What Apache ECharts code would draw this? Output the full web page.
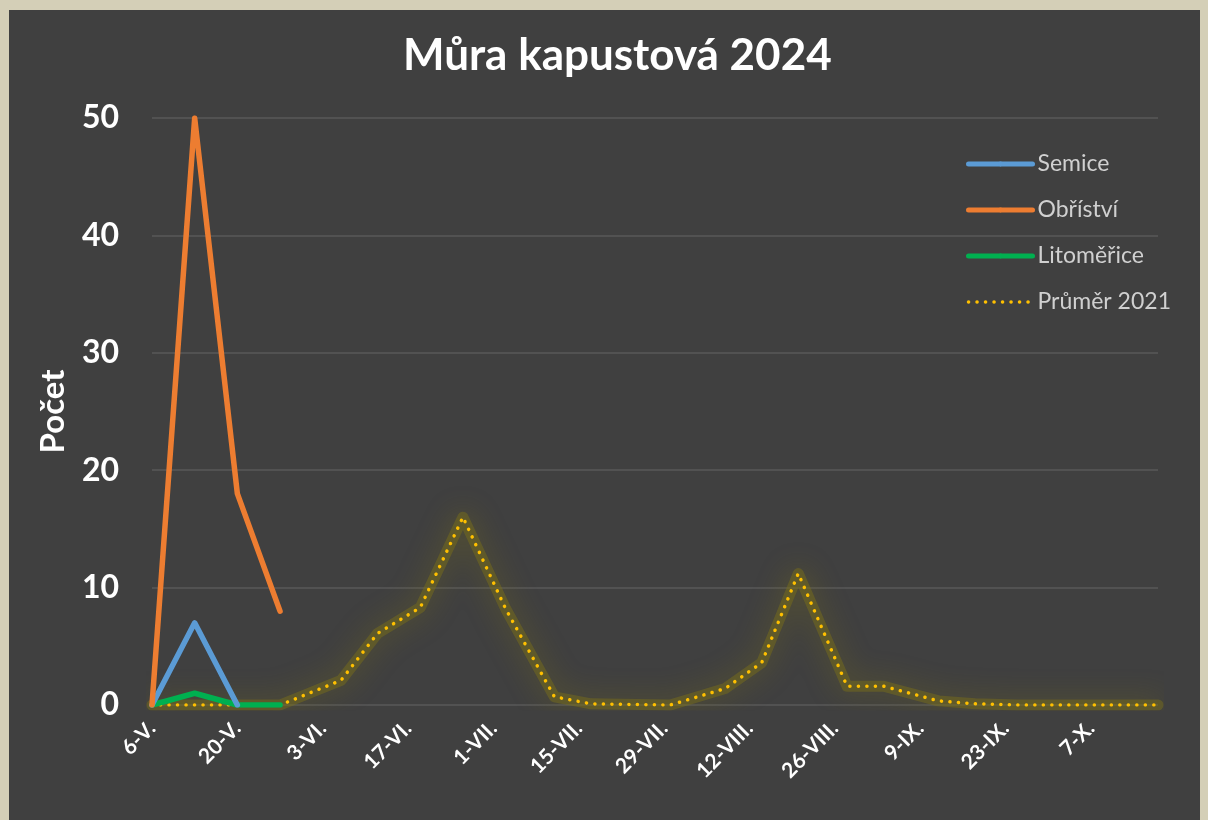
<!DOCTYPE html>
<html>
<head>
<meta charset="utf-8">
<script src="https://cdn.jsdelivr.net/npm/echarts@6/dist/echarts.min.js"></script>
<style>
  html, body { margin: 0; padding: 0; width: 1208px; height: 820px; background: #d4cfb7; overflow: hidden; }
  #chart { position: absolute; left: 9px; top: 10px; width: 1191px; height: 810px; background: #404040; }
</style>
</head>
<body>
<div id="chart"></div>
<script>
// ---- data ----
const titleText = 'Můra kapustová 2024';
const yAxisName = 'Počet';
const tickLabels = ['6-V.', '20-V.', '3-VI.', '17-VI.', '1-VII.', '15-VII.', '29-VII.', '12-VIII.', '26-VIII.', '9-IX.', '23-IX.', '7-X.'];
const tickStepDays = 14;
const axisEndDay = 165;

const seriesNames = ['Semice', 'Obříství', 'Litoměřice', 'Průměr 2021'];

const semiceDays = [0, 7, 14];
const semiceValues = [0, 7, 0];

const obristviDays = [0, 7, 14, 21];
const obristviValues = [0, 50, 18, 8];

const litomericeDays = [0, 7, 14, 21];
const litomericeValues = [0, 1, 0, 0];

const prumerDays = [0, 7, 14, 21, 31, 37, 44, 51, 58, 66, 72, 85, 94, 100, 106, 114, 120, 129, 135, 142, 150, 157, 165];
const prumerValues = [0, 0, 0, 0, 2.1, 6.1, 8.3, 16.0, 8.2, 0.7, 0.1, 0, 1.4, 3.6, 11.2, 1.6, 1.6, 0.35, 0.1, 0, 0, 0, 0];

// ---- build ----
const zip = (xs, ys) => xs.map((x, i) => [x, ys[i]]);
const colors = ['#5B9BD5', '#ED7D31', '#00B050', '#FFC000'];
const FONT = 'Lato';

const chart = echarts.init(document.getElementById('chart'), null, { renderer: 'canvas' });

const solid = (name, data, color) => ({
  name, type: 'line', data, symbol: 'none', showSymbol: false, animation: false,
  lineStyle: { color, width: 5.5, cap: 'round', join: 'round' },
  itemStyle: { color },
  z: 3
});

const prumerData = zip(prumerDays, prumerValues);

chart.setOption({
  backgroundColor: '#404040',
  animation: false,
  title: {
    text: titleText,
    left: 394,
    top: 24,
    padding: 0,
    textStyle: { color: '#ffffff', fontFamily: FONT, fontWeight: 'bold', fontSize: 44 }
  },
  legend: {
    orient: 'vertical',
    left: 952,
    top: 137,
    itemWidth: 64,
    itemHeight: 6,
    itemGap: 22,
    textStyle: { color: '#d0d0d0', fontFamily: FONT, fontSize: 23, lineHeight: 24 },
    data: [
      { name: seriesNames[0], lineStyle: { width: 5, cap: 'round' } },
      { name: seriesNames[1], lineStyle: { width: 5, cap: 'round' } },
      { name: seriesNames[2], lineStyle: { width: 5, cap: 'round' } },
      { name: seriesNames[3], itemStyle: { opacity: 0 }, lineStyle: { width: 3.5, type: [0.1, 8.4], cap: 'round' } }
    ]
  },
  grid: { left: 143, right: 42, top: 108, bottom: 115, containLabel: false },
  xAxis: {
    type: 'value',
    min: 0,
    max: axisEndDay,
    interval: tickStepDays,
    axisLine: { show: false },
    axisTick: { show: false },
    splitLine: { show: false },
    axisLabel: {
      rotate: 45,
      margin: 20,
      color: '#ffffff',
      fontFamily: FONT,
      fontWeight: 'bold',
      fontSize: 21,
      showMaxLabel: false,
      formatter: v => (v % tickStepDays === 0 && tickLabels[v / tickStepDays] !== undefined) ? tickLabels[v / tickStepDays] : ''
    }
  },
  yAxis: {
    type: 'value',
    min: 0,
    max: 50,
    interval: 10,
    name: yAxisName,
    nameLocation: 'middle',
    nameGap: 82,
    nameRotate: 90,
    nameTextStyle: { color: '#ffffff', fontFamily: FONT, fontWeight: 'bold', fontSize: 33 },
    axisLine: { show: false },
    axisTick: { show: false },
    splitLine: { lineStyle: { color: '#595959', width: 1.5 } },
    axisLabel: { margin: 33, color: '#ffffff', fontFamily: FONT, fontWeight: 'bold', fontSize: 32 }
  },
  series: [
    {
      name: 'glow', type: 'line', data: prumerData,
      symbol: 'none', showSymbol: false, z: 1, silent: true,
      lineStyle: {
        color: 'rgba(125,112,25,0.45)', width: 11, cap: 'round', join: 'round',
        shadowBlur: 28, shadowColor: 'rgba(125,112,25,1)'
      }
    },
    {
      name: seriesNames[3], type: 'line', data: prumerData,
      symbol: 'none', showSymbol: false, z: 2,
      lineStyle: { color: colors[3], width: 3.5, type: [0.1, 8.4], cap: 'round', join: 'round' },
      itemStyle: { color: colors[3] }
    },
    solid(seriesNames[2], zip(litomericeDays, litomericeValues), colors[2]),
    solid(seriesNames[0], zip(semiceDays, semiceValues), colors[0]),
    solid(seriesNames[1], zip(obristviDays, obristviValues), colors[1])
  ]
});
</script>
</body>
</html>
